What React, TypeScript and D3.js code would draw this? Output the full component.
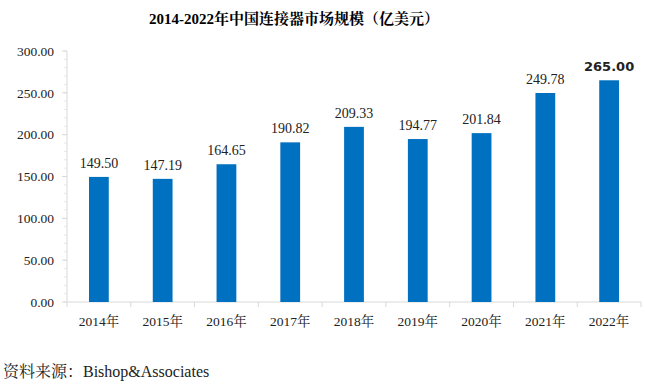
import React from 'react';
import * as d3 from 'd3';

const years = ['2014年', '2015年', '2016年', '2017年', '2018年', '2019年', '2020年', '2021年', '2022年'];
const values = [149.5, 147.19, 164.65, 190.82, 209.33, 194.77, 201.84, 249.78, 265.0];
const yTicks = [0, 50, 100, 150, 200, 250, 300];

const W = 645, H = 389;
const margin = { top: 51, right: 4, bottom: 87, left: 67 };
const serif = '"Liberation Serif", "Times New Roman", "Noto Serif CJK SC", "Noto Sans CJK SC", serif';

export default function App() {
  const width = W - margin.left - margin.right;
  const height = H - margin.top - margin.bottom;

  const x = d3.scaleBand().domain(years).range([0, width]).paddingInner(0.69).paddingOuter(0.345);
  const y = d3.scaleLinear().domain([0, 300]).range([height, 0]);
  const minor = d3.range(0, 301, 10);
  const step = width / years.length;

  return (
    <svg width={W} height={H} style={{ position: 'absolute', left: 0, top: 0, background: '#fff' }}>
      <text x={294} y={24} textAnchor="middle" fontFamily={serif} fontWeight="bold" fontSize={15} fill="#000">
        2014-2022年中国连接器市场规模（亿美元）
      </text>
      <g transform={`translate(${margin.left},${margin.top})`}>
        {/* y axis */}
        <line x1={0} x2={0} y1={0} y2={height} stroke="#d9d9d9" />
        {minor.map(t => (
          <line key={'m' + t} x1={-3} x2={0} y1={y(t)} y2={y(t)} stroke="#e6e6e6" />
        ))}
        {yTicks.map(t => (
          <g key={t} transform={`translate(0,${y(t)})`}>
            <line x1={-5} x2={0} stroke="#d9d9d9" />
            <text x={-13} dy="0.35em" textAnchor="end" fontFamily={serif} fontSize={13.5} fill="#222">
              {t.toFixed(2)}
            </text>
          </g>
        ))}
        {/* x axis */}
        <line x1={0} x2={width} y1={height} y2={height} stroke="#d9d9d9" />
        {d3.range(0, years.length + 1).map(i => (
          <line key={'xt' + i} x1={i * step} x2={i * step} y1={height} y2={height + 5} stroke="#d9d9d9" />
        ))}
        {years.map(c => (
          <text key={c} x={(x(c) ?? 0) + x.bandwidth() / 2} y={height + 24} textAnchor="middle" fontFamily={serif} fontSize={13.5} fill="#222">
            {c}
          </text>
        ))}
        {/* bars */}
        {years.map((c, i) => (
          <rect key={'b' + c} x={x(c)} y={y(values[i])} width={x.bandwidth()} height={height - y(values[i])} fill="#0070c0" />
        ))}
        {years.map((c, i) => (
          <text
            key={'v' + c}
            x={(x(c) ?? 0) + x.bandwidth() / 2}
            y={y(values[i]) - 9}
            textAnchor="middle"
            fontFamily={i === years.length - 1 ? '"DejaVu Sans", sans-serif' : serif}
            fontWeight={i === years.length - 1 ? 'bold' : 'normal'}
            fontSize={i === years.length - 1 ? 13 : 14}
            fill="#222"
          >
            {values[i].toFixed(2)}
          </text>
        ))}
      </g>
      <text x={3} y={377} fontFamily={serif} fontSize={16} fill="#222">资料来源：Bishop&amp;Associates</text>
    </svg>
  );
}
